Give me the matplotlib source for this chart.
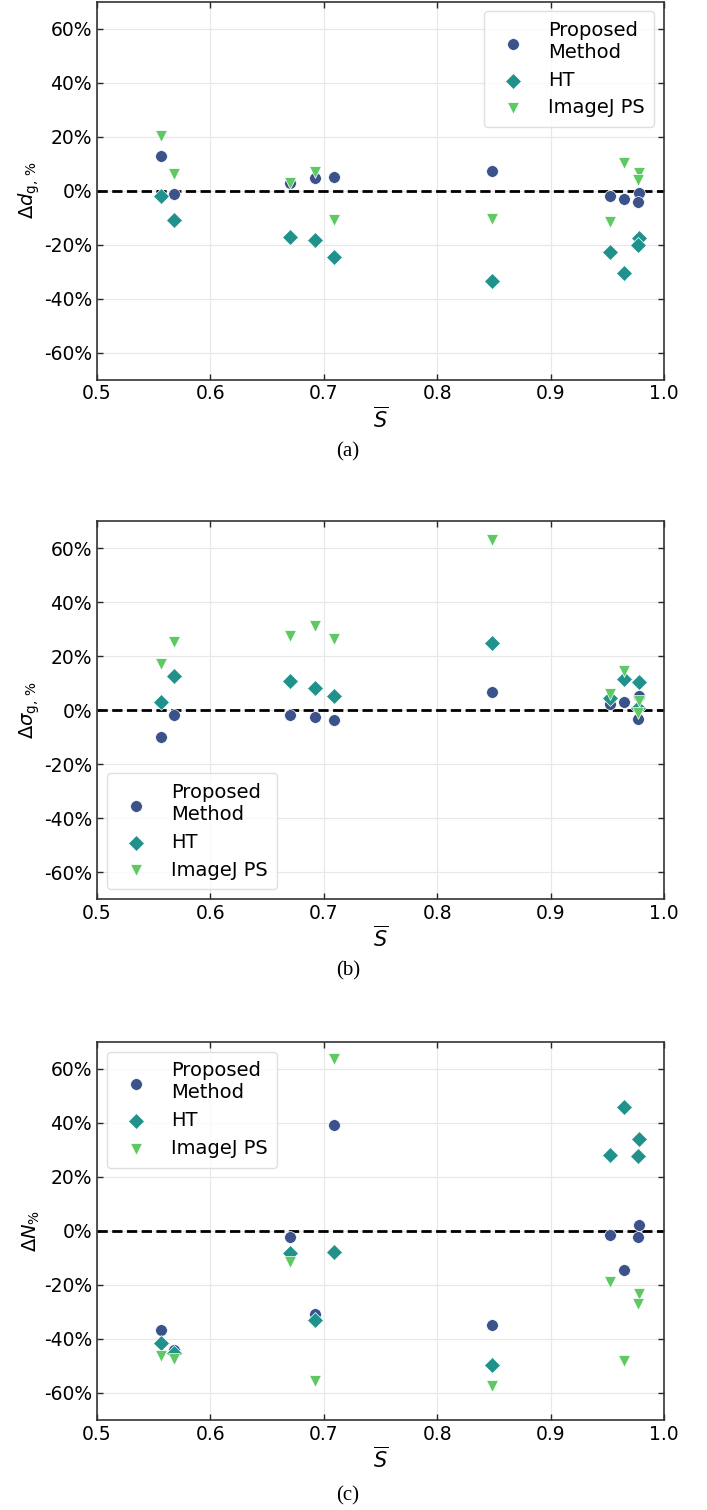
import matplotlib
matplotlib.use("Agg")
import matplotlib.pyplot as plt
import numpy as np

# Mean sphericity of each sample
s_bar = [0.556, 0.568, 0.670, 0.692, 0.709, 0.848, 0.952, 0.965, 0.978, 0.977]

# (a) relative error of the geometric mean diameter, %
dg_proposed = [12.6, -1.4, 2.7, 4.5, 5.1, 7.3, -2.0, -3.1, -1.1, -4.4]
dg_ht = [-2.2, -11.1, -17.2, -18.2, -24.5, -33.4, -22.9, -30.7, -17.6, -20.0]
dg_imagej = [20.3, 6.1, 2.8, 6.8, -11.0, -10.6, -11.5, 10.3, 6.4, 3.8]

# (b) relative error of the geometric standard deviation, %
sg_proposed = [-9.9, -1.9, -2.0, -2.5, -3.8, 6.5, 2.2, 3.0, 5.1, -3.5]
sg_ht = [2.8, 12.7, 10.6, 8.3, 5.3, 24.7, 4.4, 11.5, 10.5, 0.6]
sg_imagej = [17.0, 25.2, 27.4, 31.1, 26.2, 62.8, 5.9, 14.3, 3.2, -1.1]

# (c) relative error of the particle count, %
n_proposed = [-36.7, -44.2, -2.3, -30.7, 39.4, -34.7, -1.5, -14.3, 2.3, -2.2]
n_ht = [-41.5, -45.2, -8.3, -33.0, -7.9, -49.6, 28.3, 45.9, 34.0, 27.7]
n_imagej = [-46.3, -47.4, -11.5, -55.5, 63.8, -57.4, -18.8, -48.3, -23.5, -27.1]

series_names = ["Proposed\nMethod", "HT", "ImageJ PS"]
series_colors = ["#3b528b", "#21918c", "#5ec962"]
series_markers = ["o", "D", "v"]
series_sizes = [72, 66, 72]

x_ticks = [0.5, 0.6, 0.7, 0.8, 0.9, 1.0]
x_ticklabels = ["0.5", "0.6", "0.7", "0.8", "0.9", "1.0"]
y_ticks = [-60, -40, -20, 0, 20, 40, 60]
y_ticklabels = ["-60%", "-40%", "-20%", "0%", "20%", "40%", "60%"]

panels = [
    (dg_proposed, dg_ht, dg_imagej, r"$\Delta d_{\mathrm{g},\,\%}$", "upper right", "(a)"),
    (sg_proposed, sg_ht, sg_imagej, r"$\Delta \sigma_{\mathrm{g},\,\%}$", "lower left", "(b)"),
    (n_proposed, n_ht, n_imagej, r"$\Delta N_{\%}$", "upper left", "(c)"),
]

W, H = 707, 1510
fig = plt.figure(figsize=(W / 100, H / 100), dpi=100)

left = 97 / W
width = 567 / W
ax_h = 378 / H
tops = [1.5, 521, 1042]
caption_y = [452, 971, 1496]

for (p_vals, h_vals, i_vals, ylab, loc, cap), top, cy in zip(panels, tops, caption_y):
    bottom = 1 - (top / H) - ax_h
    ax = fig.add_axes([left, bottom, width, ax_h])
    ax.set_axisbelow(True)
    ax.grid(True, color="#e8e8e8", linewidth=0.9)
    ax.axhline(0, color="black", linestyle="--", linewidth=2.0, zorder=2)
    for vals, name, col, mk, sz in zip((p_vals, h_vals, i_vals), series_names,
                                       series_colors, series_markers, series_sizes):
        ax.scatter(s_bar, vals, s=sz, marker=mk, color=col, label=name,
                   edgecolors="white", linewidths=0.5, zorder=3)
    ax.set_xlim(0.5, 1.0)
    ax.set_ylim(-70, 70)
    ax.set_xticks(x_ticks)
    ax.set_xticklabels(x_ticklabels)
    ax.set_yticks(y_ticks)
    ax.set_yticklabels(y_ticklabels)
    ax.tick_params(direction="in", length=4, width=1, labelsize=13.5,
                   top=True, right=True, colors="0.15", labelcolor="black")
    for sp in ax.spines.values():
        sp.set_color("0.2")
        sp.set_linewidth(1.2)
    ax.set_ylabel(ylab, fontsize=14, labelpad=1)
    ax.set_xlabel(r"$\overline{S}$", fontsize=15, labelpad=2)
    leg = ax.legend(loc=loc, fontsize=14, frameon=True, fancybox=True,
                    handletextpad=0.8, labelspacing=0.45, borderpad=0.5,
                    scatterpoints=1)
    leg.get_frame().set_edgecolor("#d8d8d8")
    leg.get_frame().set_linewidth(1.0)
    fig.text(348 / W, 1 - cy / H, cap, ha="center", va="center",
             fontsize=15, family="Liberation Serif")

fig.savefig("out.png", dpi=100)
